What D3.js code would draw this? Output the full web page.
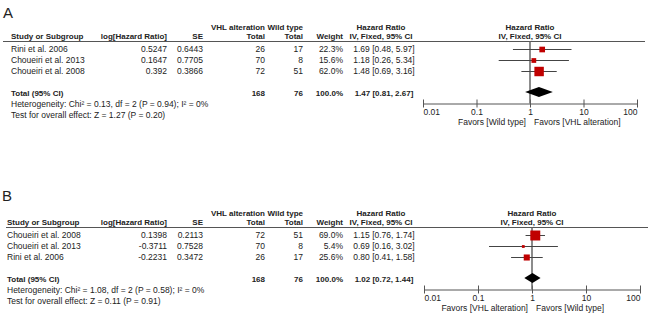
<!DOCTYPE html>
<html>
<head>
<meta charset="utf-8">
<script src="https://cdn.jsdelivr.net/npm/d3@7"></script>
<style>
  body { margin: 0; background: #fff; }
  svg { display: block; font-family: "Liberation Sans", Arial, sans-serif; }
  .t { font-size: 8.5px; fill: #222; }
  .b { font-weight: bold; font-size: 8px; }
</style>
</head>
<body>
<div id="chart"></div>
<script>
// ---- data ----
const tickValues = [0.01, 0.1, 1, 10, 100];
const tickLabels = ["0.01", "0.1", "1", "10", "100"];

const studiesA = ["Rini et al. 2006", "Choueiri et al. 2013", "Choueiri et al. 2008"];
const logHrA = [0.5247, 0.1647, 0.392];
const seA = [0.6443, 0.7705, 0.3866];
const vhlTotalA = [26, 70, 72];
const wtTotalA = [17, 8, 51];
const weightA = [22.3, 15.6, 62.0];
const hrA = [1.69, 1.18, 1.48];
const loA = [0.48, 0.26, 0.69];
const hiA = [5.97, 5.34, 3.16];
const totalA = {vhl: 168, wt: 76, hr: 1.47, lo: 0.81, hi: 2.67};
const hetA = "Heterogeneity: Chi\u00b2 = 0.13, df = 2 (P = 0.94); I\u00b2 = 0%";
const testA = "Test for overall effect: Z = 1.27 (P = 0.20)";
const favorsA = ["Favors [Wild type]", "Favors [VHL alteration]"];

const studiesB = ["Choueiri et al. 2008", "Choueiri et al. 2013", "Rini et al. 2006"];
const logHrB = [0.1398, -0.3711, -0.2231];
const seB = [0.2113, 0.7528, 0.3472];
const vhlTotalB = [72, 70, 26];
const wtTotalB = [51, 8, 17];
const weightB = [69.0, 5.4, 25.6];
const hrB = [1.15, 0.69, 0.80];
const loB = [0.76, 0.16, 0.41];
const hiB = [1.74, 3.02, 1.58];
const totalB = {vhl: 168, wt: 76, hr: 1.02, lo: 0.72, hi: 1.44};
const hetB = "Heterogeneity: Chi\u00b2 = 1.08, df = 2 (P = 0.58); I\u00b2 = 0%";
const testB = "Test for overall effect: Z = 0.11 (P = 0.91)";
const favorsB = ["Favors [VHL alteration]", "Favors [Wild type]"];

const W = 650, H = 317;
const svg = d3.select("#chart").append("svg").attr("width", W).attr("height", H);

function ci(h, l, u) {
  return h.toFixed(2) + " [" + l.toFixed(2) + ", " + u.toFixed(2) + "]";
}

function drawPanel(p) {
  const g = svg.append("g").attr("transform", `translate(0,${p.top})`);
  const rowY = i => 49 + i * 11;
  const x = d3.scaleLog().domain([0.01, 100]).range(p.range);
  const size = d3.scaleSqrt().domain([0, 100]).range([0, 12]);
  const nullX = x(1);

  g.append("text").attr("x", p.labelX).attr("y", p.labelY)
    .style("font-size", "15px").style("fill", "#222").text(p.label);

  const txt = (xx, y, s, anchor, bold) => g.append("text")
    .attr("class", "t" + (bold ? " b" : ""))
    .attr("x", xx).attr("y", y).attr("dy", "0.35em")
    .attr("text-anchor", anchor || "start").text(s);

  // headers
  txt(265, 27, "VHL alteration", "end", true);
  txt(303, 27, "Wild type", "end", true);
  txt(381, 27, "Hazard Ratio", "middle", true);
  txt(nullX, 27, "Hazard Ratio", "middle", true);
  txt(p.studyX, 36, "Study or Subgroup", "start", true);
  txt(167, 36, "log[Hazard Ratio]", "end", true);
  txt(203, 36, "SE", "end", true);
  txt(265, 36, "Total", "end", true);
  txt(303, 36, "Total", "end", true);
  txt(343, 36, "Weight", "end", true);
  txt(381, 36, "IV, Fixed, 95% CI", "middle", true);
  txt(nullX, 36, "IV, Fixed, 95% CI", "middle", true);

  g.append("line").attr("x1", p.lineX).attr("x2", p.lineEnd)
    .attr("y1", 41.5).attr("y2", 41.5)
    .attr("stroke", "#555").attr("stroke-width", 1);

  // study rows
  p.studies.forEach((s, i) => {
    const y = rowY(i);
    txt(p.studyX, y, s);
    txt(167, y, String(p.logHr[i]), "end");
    txt(203, y, String(p.se[i]), "end");
    txt(265, y, p.vhl[i], "end");
    txt(303, y, p.wt[i], "end");
    txt(343, y, p.weight[i].toFixed(1) + "%", "end");
    txt(384, y, ci(p.hr[i], p.lo[i], p.hi[i]), "middle");
  });

  // totals & footers
  txt(p.studyX, 93, "Total (95% CI)", "start", true);
  txt(265, 93, p.total.vhl, "end", true);
  txt(303, 93, p.total.wt, "end", true);
  txt(343, 93, "100.0%", "end", true);
  txt(384, 93, ci(p.total.hr, p.total.lo, p.total.hi), "middle", true);
  txt(p.studyX, 104, p.het);
  txt(p.studyX, 115, p.test);

  // axis
  const axis = d3.axisBottom(x).tickValues(tickValues)
    .tickFormat((d, i) => tickLabels[i]).tickSize(4).tickSizeOuter(0);
  const ax = g.append("g").attr("transform", "translate(0,103.5)").call(axis);
  ax.select(".domain").attr("stroke", "#555");
  ax.selectAll(".tick line").attr("y1", -4).attr("y2", 4).attr("stroke", "#555");
  ax.selectAll(".tick text").attr("y", 5).attr("dy", "0.71em")
    .attr("text-anchor", (d, i) => i === 0 ? "start" : (i === tickValues.length - 1 ? "end" : "middle"))
    .style("font-family", "Liberation Sans, Arial, sans-serif")
    .style("font-size", "8.5px").style("fill", "#222");

  txt(nullX - 4, 122, p.favors[0], "end");
  txt(nullX + 4, 122, p.favors[1], "start");

  // null line
  g.append("line").attr("x1", nullX).attr("x2", nullX)
    .attr("y1", 41.5).attr("y2", 103.5)
    .attr("stroke", "#666").attr("stroke-width", 1.5);

  // whiskers and squares
  p.studies.forEach((s, i) => {
    const y = rowY(i);
    g.append("line").attr("x1", x(p.lo[i])).attr("x2", x(p.hi[i]))
      .attr("y1", y + 0.5).attr("y2", y + 0.5)
      .attr("stroke", "#444").attr("stroke-width", 1);
    const sz = size(p.weight[i]);
    g.append("rect").attr("x", x(p.hr[i]) - sz / 2).attr("y", y + 0.5 - sz / 2)
      .attr("width", sz).attr("height", sz).attr("fill", "#c00000");
  });

  // diamond
  const dy = 92;
  const pts = [[x(p.total.lo), dy], [x(p.total.hr), dy - 5],
               [x(p.total.hi), dy], [x(p.total.hr), dy + 5]];
  g.append("path").attr("d", d3.line()(pts) + "Z").attr("fill", "#000");
}

drawPanel({
  top: 0, label: "A", labelX: 3, labelY: 18, studyX: 11, lineX: 3, lineEnd: 645,
  range: [423, 637],
  studies: studiesA, logHr: logHrA, se: seA, vhl: vhlTotalA, wt: wtTotalA,
  weight: weightA, hr: hrA, lo: loA, hi: hiA, total: totalA,
  het: hetA, test: testA, favors: favorsA
});

drawPanel({
  top: 186, label: "B", labelX: 2, labelY: 15, studyX: 7, lineX: 6, lineEnd: 648,
  range: [424, 640],
  studies: studiesB, logHr: logHrB, se: seB, vhl: vhlTotalB, wt: wtTotalB,
  weight: weightB, hr: hrB, lo: loB, hi: hiB, total: totalB,
  het: hetB, test: testB, favors: favorsB
});
</script>
</body>
</html>
